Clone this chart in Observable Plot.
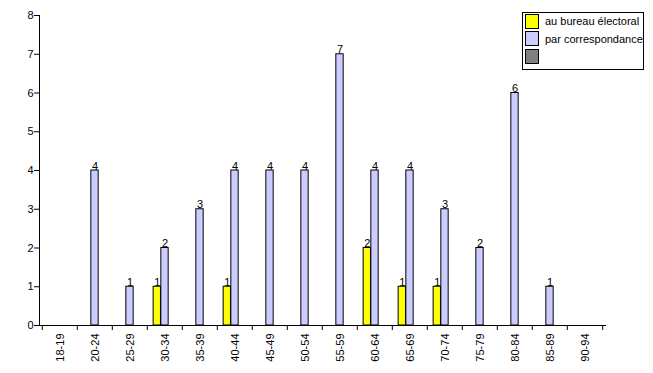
<!DOCTYPE html>
<html>
<head>
<meta charset="utf-8">
<script src="https://cdn.jsdelivr.net/npm/d3@7"></script>
<script src="https://cdn.jsdelivr.net/npm/@observablehq/plot@0.6"></script>
<style>
  html, body { margin: 0; padding: 0; background: #fff; }
  #wrap { position: relative; width: 653px; height: 373px; font-family: "Liberation Sans", Arial, sans-serif; }
  #legend { position: absolute; left: 522px; top: 12px; width: 120px; height: 56px; border: 1px solid #000; background: #fff; font-size: 11px; }
  .item { position: absolute; left: 2px; height: 14px; display: flex; align-items: center; }
  .sw { width: 12px; height: 13px; border: 1px solid #000; box-sizing: content-box; margin-right: 6px; }
</style>
</head>
<body>
<div id="wrap"></div>
<script>
const ages = ["18-19","20-24","25-29","30-34","35-39","40-44","45-49","50-54","55-59","60-64","65-69","70-74","75-79","80-84","85-89","90-94"];
const bureau = [0,0,0,1,0,1,0,0,0,2,1,1,0,0,0,0];
const correspondance = [0,4,1,2,3,4,4,4,7,4,4,3,2,6,1,0];
const third = [0,0,0,0,0,0,0,0,0,0,0,0,0,0,0,0];
const seriesNames = ["au bureau électoral", "par correspondance", ""];
const seriesColors = ["#ffff00", "#ccccff", "#808080"];
const yTicks = [0,1,2,3,4,5,6,7,8];

const W = 653, H = 373;
const mL = 39, mR = 48, mT = 15, mB = 48;
const bw = (W - mL - mR) / ages.length;
const barW = 7.7;

const all = [bureau, correspondance, third];
const marks = [];
all.forEach((vals, si) => {
  const data = ages.map((a, i) => ({age: a, v: vals[i]})).filter(d => d.v > 0);
  const center = (si - 1) * barW; // offset of bar centre from band centre
  const left = bw / 2 + center - barW / 2;
  const right = bw - left - barW;
  marks.push(Plot.barY(data, {x: "age", y: "v", fill: seriesColors[si], stroke: "#000", strokeWidth: 1, insetLeft: left, insetRight: right}));
  marks.push(Plot.text(data, {x: "age", y: "v", text: d => String(d.v), dx: center, dy: -1, lineAnchor: "bottom", fill: "#000", fontSize: 11}));
});

const chart = Plot.plot({
  width: W, height: H,
  marginLeft: mL, marginRight: mR, marginTop: mT, marginBottom: mB,
  style: {fontFamily: "'Liberation Sans', Arial, sans-serif", fontSize: "11px", color: "#000", background: "#fff"},
  x: {domain: ages, padding: 0, axis: null},
  y: {domain: [0, 8], axis: null},
  marks: [
    ...marks,
    Plot.axisY({ticks: yTicks, tickSize: 5, tickPadding: 1, label: null, fontSize: 11, stroke: "#000", tickFormat: d => String(d)}),
    Plot.axisX({tickSize: 0, tickPadding: 8, tickRotate: -90, label: null, fontSize: 11}),
    Plot.axisX({tickSize: 5, text: null, dx: -bw / 2, label: null, stroke: "#000"}),
    Plot.axisX({ticks: [ages[ages.length - 1]], tickSize: 5, text: null, dx: bw / 2, label: null, stroke: "#000"}),
    Plot.frame({anchor: "left", stroke: "#000"}),
    Plot.frame({anchor: "bottom", stroke: "#000"})
  ]
});

const wrap = document.getElementById("wrap");
wrap.appendChild(chart);

const legend = document.createElement("div");
legend.id = "legend";
seriesNames.forEach((name, i) => {
  const it = document.createElement("div");
  it.className = "item";
  it.style.top = (1 + i * 17.5) + "px";
  const sw = document.createElement("div");
  sw.className = "sw";
  sw.style.background = seriesColors[i];
  const t = document.createElement("span");
  t.textContent = name;
  it.appendChild(sw);
  it.appendChild(t);
  legend.appendChild(it);
});
wrap.appendChild(legend);
</script>
</body>
</html>
